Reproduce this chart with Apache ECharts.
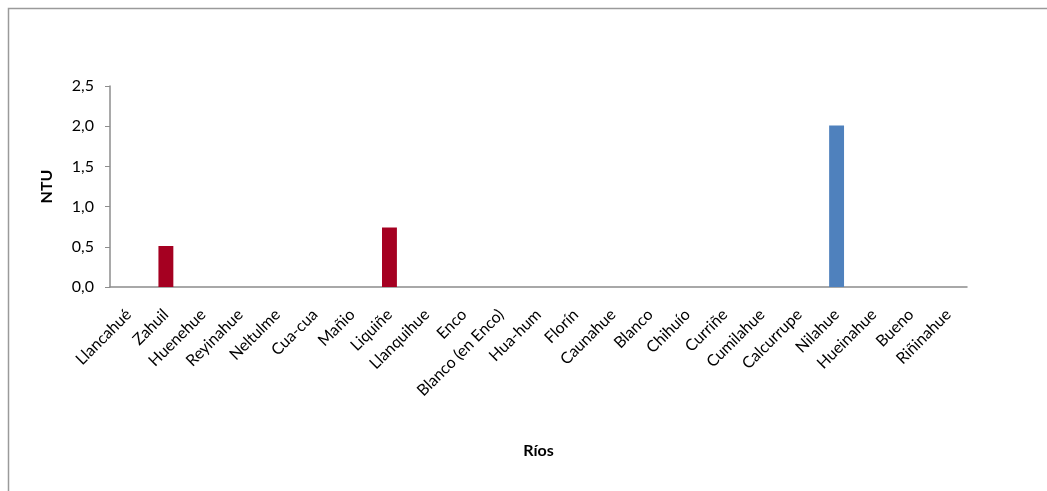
<!DOCTYPE html>
<html>
<head>
<meta charset="utf-8">
<script src="https://cdn.jsdelivr.net/npm/echarts@6/dist/echarts.min.js"></script>
<style>html,body{margin:0;padding:0;background:#fff}#c{width:1047px;height:491px}</style>
</head>
<body>
<div id="c"></div>
<script>
var categories = ["Llancahué","Zahuil","Huenehue","Reyinahue","Neltulme","Cua-cua","Mañio","Liquiñe","Llanquihue","Enco","Blanco (en Enco)","Hua-hum","Florín","Caunahue","Blanco","Chihuío","Curriñe","Cumilahue","Calcurrupe","Nilahue","Hueinahue","Bueno","Riñinahue"];
var redValues = [0,0.51,0,0,0,0,0,0.74,0,0,0,0,0,0,0,0,0,0,0,0,0,0,0];
var blueValues = [0,0,0,0,0,0,0,0,0,0,0,0,0,0,0,0,0,0,0,2.01,0,0,0];
var yTicks = {min:0, max:2.5, interval:0.5};
var font = "Lato, 'Open Sans', sans-serif";
var chart = echarts.init(document.getElementById('c'));
chart.setOption({
  animation:false,
  backgroundColor:'#fff',
  graphic:[{type:'rect',shape:{x:8.5,y:8.5,width:1200,height:700},style:{fill:'none',stroke:'#9a9a9a',lineWidth:1.5},silent:true}],
  grid:{left:110,right:80,top:86,bottom:204,containLabel:false},
  xAxis:{type:'category',data:categories,
    name:'Ríos',nameLocation:'middle',nameGap:156,
    nameTextStyle:{fontFamily:font,fontSize:16,fontWeight:'bold',color:'#000'},
    axisLine:{lineStyle:{color:'#8c8c8c',width:1.5}},axisTick:{show:false},
    axisLabel:{interval:0,rotate:45,margin:25,fontFamily:font,fontSize:16,color:'#000'}},
  yAxis:{type:'value',min:yTicks.min,max:yTicks.max,interval:yTicks.interval,
    name:'NTU',nameLocation:'middle',nameGap:55,
    nameTextStyle:{fontFamily:font,fontSize:16,fontWeight:'bold',color:'#000'},
    axisLine:{show:true,lineStyle:{color:'#8c8c8c',width:1.5}},
    axisTick:{show:true,length:5,lineStyle:{color:'#8c8c8c'}},
    splitLine:{show:false},
    axisLabel:{margin:16,fontFamily:font,fontSize:16,color:'#000',formatter:function(v){return v.toFixed(1).replace('.',',');}}},
  series:[
    {type:'bar',stack:'s',data:redValues,barWidth:'40%',itemStyle:{color:'#A50021'}},
    {type:'bar',stack:'s',data:blueValues,barWidth:'40%',itemStyle:{color:'#4F81BD'}}
  ]
});
</script>
</body>
</html>
